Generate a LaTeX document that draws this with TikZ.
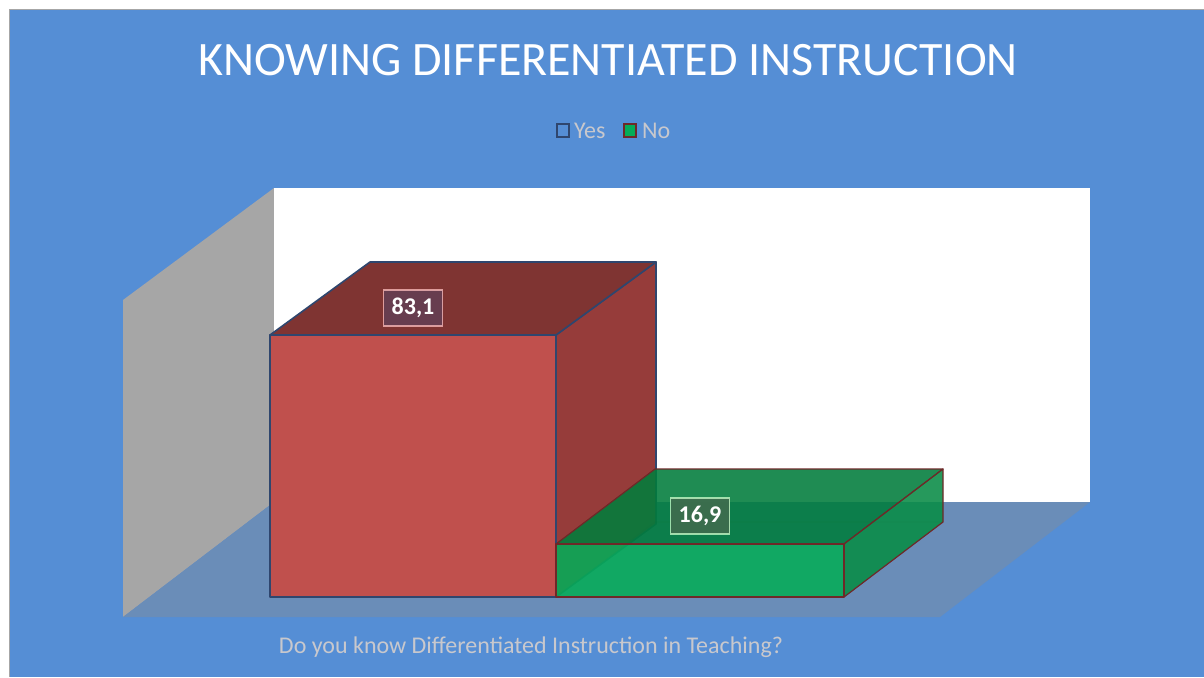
\documentclass[tikz,border=0pt]{standalone}
\usepackage{fontspec}
\setmainfont{Carlito}
\definecolor{bg}{RGB}{85,142,213}
\definecolor{wallgray}{RGB}{166,166,166}
\definecolor{floorc}{RGB}{106,141,184}
\definecolor{redfront}{RGB}{192,80,77}
\definecolor{redtop}{RGB}{127,52,50}
\definecolor{redside}{RGB}{150,60,58}
\definecolor{redline}{RGB}{47,70,110}
\definecolor{grfront}{RGB}{5,172,88}
\definecolor{grtop}{RGB}{0,125,60}
\definecolor{grside}{RGB}{8,140,70}
\definecolor{grline}{RGB}{110,40,40}
\definecolor{txtgray}{RGB}{200,200,205}
\definecolor{lblred}{RGB}{102,62,82}
\definecolor{lblgreen}{RGB}{62,108,78}
\tikzset{
  redface/.style={draw=redline, line width=1.6pt, line join=round},
  grface/.style={draw=grline, line width=1.2pt, line join=round, fill opacity=0.88},
  hidden/.style={draw=grline, line width=0.6pt, opacity=0.35},
  lbl/.style={text=white, font=\fontsize{24}{28}\selectfont\bfseries, minimum width=59pt, minimum height=36pt, inner sep=0pt, line width=1.2pt},
  legtxt/.style={text=txtgray, font=\fontsize{24}{28}\selectfont, anchor=west, inner sep=0pt}
}
\begin{document}
\begin{tikzpicture}[x=1pt,y=-1pt]
\useasboundingbox (0,0) rectangle (1204,677);
\fill[white] (0,0) rectangle (1204,677);
\fill[gray!70] (9,9) rectangle (1204,677);
\fill[bg] (10,10) rectangle (1204,677);
% walls and floor
\fill[wallgray] (123,300) -- (274,188) -- (274,502) -- (123,617) -- cycle;
\fill[white] (274,188) rectangle (1090,502);
\fill[floorc] (123,617) -- (940,617) -- (1090,502) -- (274,502) -- cycle;
% red bar (Yes)
\coordinate (rfl) at (270,335);
\coordinate (rfr) at (556,335);
\coordinate (rbl) at (370,262);
\coordinate (rbr) at (656,262);
\coordinate (rbb) at (656,524);
\coordinate (rfb) at (556,597);
\coordinate (rflb) at (270,597);
\path[redface, fill=redside] (rfr) -- (rbr) -- (rbb) -- (rfb) -- cycle;
\path[redface, fill=redtop] (rfl) -- (rbl) -- (rbr) -- (rfr) -- cycle;
\path[redface, fill=redfront] (rflb) rectangle (rfr);
% green bar (No)
\coordinate (gfl) at (556,544);
\coordinate (gfr) at (844,544);
\coordinate (gfbl) at (556,597);
\coordinate (gfbr) at (844,597);
\coordinate (gbl) at (655,469);
\coordinate (gbr) at (943,469);
\coordinate (gbbl) at (655,522);
\coordinate (gbbr) at (943,522);
\draw[hidden] (gfbl) -- (gbbl) -- (gbbr);
\draw[hidden] (gbbl) -- (gbl);
\path[grface, fill=grtop] (gfl) -- (gbl) -- (gbr) -- (gfr) -- cycle;
\path[grface, fill=grside] (gfr) -- (gbr) -- (gbbr) -- (gfbr) -- cycle;
\path[grface, fill=grfront] (gfbl) rectangle (gfr);
% data labels
\node[lbl, fill=lblred, fill opacity=0.92, text opacity=1, draw=white!75!red, draw opacity=0.75] (l1) at (413,308) {83,1};
\node[lbl, fill=lblgreen, fill opacity=0.92, text opacity=1, draw=white!80!green, draw opacity=0.75] (l2) at (700,516) {16,9};
% title
\node[text=white, font=\fontsize{48}{56}\selectfont] (title) at (608,60) {KNOWING DIFFERENTIATED INSTRUCTION};
% legend
\draw[draw=redline, fill=bg, line width=1.6pt] (557,124) rectangle (569,137);
\node[legtxt] (yes) at (574,131) {Yes};
\draw[draw=grline, fill=grfront, line width=1.6pt] (624,124) rectangle (636,137);
\node[legtxt] (no) at (642,131) {No};
% axis title
\node[text=txtgray, font=\fontsize{24}{28}\selectfont] (axis) at (531,647) {Do you know Differentiated Instruction in Teaching?};
\end{tikzpicture}
\end{document}
